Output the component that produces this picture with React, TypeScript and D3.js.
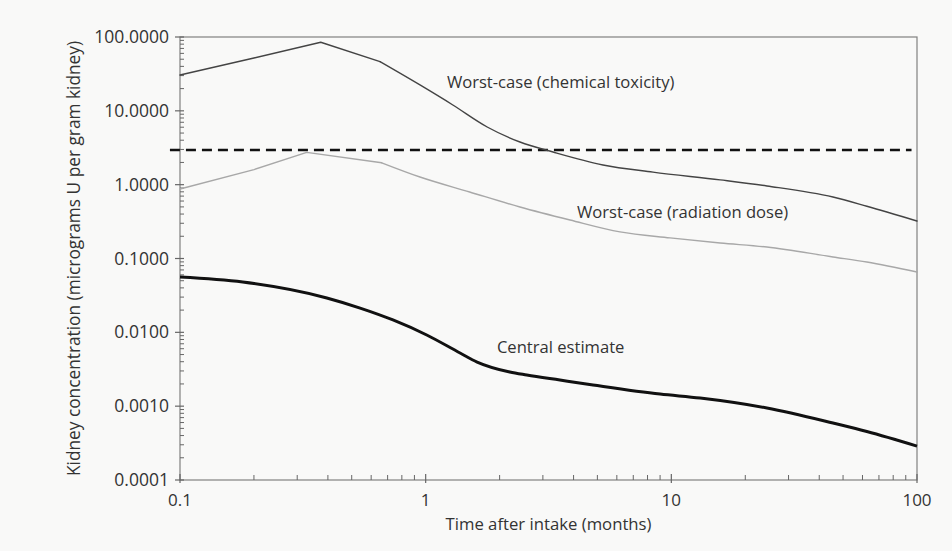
import React, { useRef, useEffect } from "react";
import * as d3 from "d3";

// values (months, micrograms U per gram kidney)
const chemicalX = [0.1, 0.2, 0.374, 0.652, 0.948, 1.29, 1.78, 2.42, 3.3, 5.27, 8.42, 15.8, 24.5, 45.5, 62.5, 100];
const chemicalY = [30.6, 52, 84.8, 46.3, 22.4, 12.0, 6.04, 3.78, 2.77, 1.85, 1.48, 1.16, 0.96, 0.68, 0.51, 0.322];
const radiationX = [0.1, 0.2, 0.328, 0.662, 0.948, 1.51, 2.42, 3.87, 6.18, 9.88, 15.8, 24.5, 45.5, 62.5, 100];
const radiationY = [0.873, 1.6, 2.74, 1.98, 1.27, 0.796, 0.498, 0.332, 0.229, 0.19, 0.162, 0.143, 0.105, 0.0897, 0.0656];
const centralX = [0.1, 0.18, 0.396, 0.541, 0.736, 1.01, 1.38, 1.62, 2.2, 2.58, 3.52, 4.8, 9.0, 13.1, 24.5, 45.5, 62.5, 100];
const centralY = [0.0561, 0.048, 0.0292, 0.0213, 0.0147, 0.0092, 0.00525, 0.00396, 0.0029, 0.00264, 0.00226, 0.00194, 0.00146, 0.00129, 0.000944, 0.000591, 0.000454, 0.000288];
const thresholdX = [0.091, 95];
const thresholdY = [2.95, 2.95];
const xTicks = [0.1, 1, 10, 100];
const xTickLabels = ["0.1", "1", "10", "100"];
const yTicks = [0.0001, 0.001, 0.01, 0.1, 1, 10, 100];
const yTickLabels = ["0.0001", "0.0010", "0.0100", "0.1000", "1.0000", "10.0000", "100.0000"];
const labels = [
  { text: "Worst-case (chemical toxicity)", x: 1.22, y: 20.4 },
  { text: "Worst-case (radiation dose)", x: 4.13, y: 0.353 },
  { text: "Central estimate", x: 1.95, y: 0.00525 },
];

const App = () => {
  const svgRef = useRef(null);

  useEffect(() => {
    const width = 952, height = 551;
    const margin = { top: 37, right: 35, bottom: 71, left: 180 };
    const font = "'Open Sans', 'Noto Sans', sans-serif";
    const textColor = "#333";

    const svg = d3.select(svgRef.current)
      .attr("width", width)
      .attr("height", height);
    svg.selectAll("*").remove();

    svg.append("rect").attr("width", width).attr("height", height).attr("fill", "#f9f9f8");

    const x = d3.scaleLog().domain([0.1, 100]).range([margin.left, width - margin.right]);
    const y = d3.scaleLog().domain([0.0001, 100]).range([height - margin.bottom, margin.top]);

    // frame
    svg.append("rect")
      .attr("x", x(0.1)).attr("y", y(100))
      .attr("width", x(100) - x(0.1)).attr("height", y(0.0001) - y(100))
      .attr("fill", "none").attr("stroke", "#808080").attr("stroke-width", 1.2);

    // minor ticks
    const minor = (lo, hi) => {
      const out = [];
      for (let d = lo; d < hi; d *= 10) for (let k = 2; k <= 9; k++) out.push(d * k);
      return out;
    };
    svg.append("g").selectAll("line").data(minor(0.1, 100)).join("line")
      .attr("x1", d => x(d)).attr("x2", d => x(d))
      .attr("y1", y(0.0001)).attr("y2", y(0.0001) - 5)
      .attr("stroke", "#666").attr("stroke-width", 1);
    svg.append("g").selectAll("line").data(xTicks).join("line")
      .attr("x1", d => x(d)).attr("x2", d => x(d))
      .attr("y1", y(0.0001) + 3).attr("y2", y(0.0001) - 6)
      .attr("stroke", "#666").attr("stroke-width", 1.2);
    svg.append("g").selectAll("line").data(minor(0.0001, 100)).join("line")
      .attr("x1", x(0.1)).attr("x2", x(0.1) + 4)
      .attr("y1", d => y(d)).attr("y2", d => y(d))
      .attr("stroke", "#666").attr("stroke-width", 1);
    svg.append("g").selectAll("line").data(yTicks).join("line")
      .attr("x1", x(0.1) - 5).attr("x2", x(0.1) + 4)
      .attr("y1", d => y(d)).attr("y2", d => y(d))
      .attr("stroke", "#666").attr("stroke-width", 1.2);

    // tick labels
    svg.append("g").selectAll("text").data(xTicks).join("text")
      .attr("x", d => x(d)).attr("y", y(0.0001) + 26)
      .attr("text-anchor", "middle")
      .attr("font-family", font).attr("font-size", 17).attr("fill", textColor)
      .text((d, i) => xTickLabels[i]);
    svg.append("g").selectAll("text").data(yTicks).join("text")
      .attr("x", x(0.1) - 11).attr("y", d => y(d) + 6)
      .attr("text-anchor", "end")
      .attr("font-family", font).attr("font-size", 17.5).attr("fill", textColor)
      .text((d, i) => yTickLabels[i]);

    // axis titles
    svg.append("text")
      .attr("x", (x(0.1) + x(100)) / 2).attr("y", y(0.0001) + 50)
      .attr("text-anchor", "middle")
      .attr("font-family", font).attr("font-size", 17).attr("fill", textColor)
      .attr("textLength", 206).attr("lengthAdjust", "spacingAndGlyphs")
      .text("Time after intake (months)");
    svg.append("text")
      .attr("transform", `translate(80,${(y(100) + y(0.0001)) / 2}) rotate(-90)`)
      .attr("text-anchor", "middle")
      .attr("font-family", font).attr("font-size", 17.3).attr("fill", textColor)
      .text("Kidney concentration (micrograms U per gram kidney)");

    const polyline = d3.line()
      .x(d => x(d[0]))
      .y(d => y(d[1]));
    const smooth = d3.line()
      .x(d => x(d[0]))
      .y(d => y(d[1]))
      .curve(d3.curveMonotoneX);

    // straight rise to the peak and first knee, smooth decline after it
    const drawWorstCase = (xs, ys, knee, color) => {
      const pts = d3.zip(xs, ys);
      const g = svg.append("g")
        .attr("fill", "none").attr("stroke", color).attr("stroke-width", 1.4)
        .attr("stroke-linejoin", "round").attr("stroke-linecap", "round");
      g.append("path").datum(pts.slice(0, knee + 1)).attr("d", polyline);
      g.append("path").datum(pts.slice(knee)).attr("d", smooth);
    };

    // threshold dashed line
    svg.append("path")
      .datum(d3.zip(thresholdX, thresholdY))
      .attr("d", polyline)
      .attr("fill", "none").attr("stroke", "#111")
      .attr("stroke-width", 2.5).attr("stroke-dasharray", "10,6");

    drawWorstCase(radiationX, radiationY, 3, "#a8a8a8");
    drawWorstCase(chemicalX, chemicalY, 3, "#444");

    svg.append("path")
      .datum(d3.zip(centralX, centralY))
      .attr("d", smooth)
      .attr("fill", "none").attr("stroke", "#111").attr("stroke-width", 3);

    // curve labels
    svg.append("g").selectAll("text").data(labels).join("text")
      .attr("x", d => x(d.x)).attr("y", d => y(d.y))
      .attr("font-family", font).attr("font-size", 16.6).attr("fill", textColor)
      .text(d => d.text);

    return () => { d3.select(svgRef.current).selectAll("*").remove(); };
  }, []);

  return <svg ref={svgRef} style={{ position: "absolute", left: 0, top: 0 }}></svg>;
};

export default App;
